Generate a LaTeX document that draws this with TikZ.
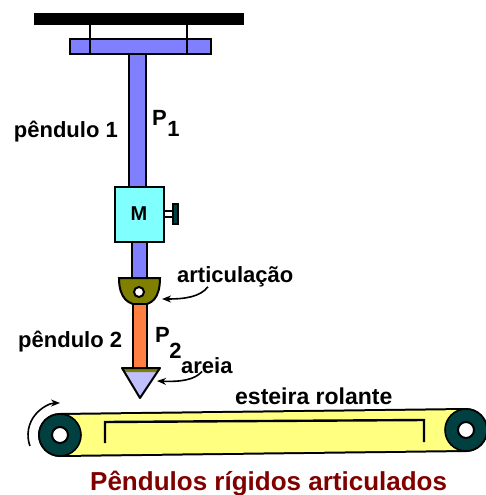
\documentclass[tikz,border=0pt]{standalone}
\usepackage{fontspec}
\setmainfont{Liberation Sans}
\usetikzlibrary{arrows.meta,calc}

\definecolor{rodblue}{HTML}{8080FF}
\definecolor{boxcyan}{HTML}{80FFFF}
\definecolor{jointolive}{HTML}{808000}
\definecolor{rodorange}{HTML}{FF8040}
\definecolor{bobviolet}{HTML}{C0C0FF}
\definecolor{beltyellow}{HTML}{FFFF80}
\definecolor{rollerteal}{HTML}{004040}
\definecolor{titlered}{HTML}{800000}

\tikzset{
  outline/.style={draw=black, line width=2pt},
  lbl/.style={inner sep=0pt, font=\fontsize{22}{22}\selectfont\bfseries},
  conn/.style={draw=black, line width=1.6pt, -{Stealth[length=9pt,width=7pt]}},
}

\begin{document}
\begin{tikzpicture}[x=1pt,y=-1pt]
\useasboundingbox (0,0) rectangle (485,495);

% ceiling beam and hangers
\fill[black] (34,13) rectangle (244,25);
\draw[line width=2.4pt] (90,25) -- (90,54);
\draw[line width=2.4pt] (187,25) -- (187,54);

% upper rod (pendulum 1)
\draw[outline, fill=rodblue] (129,52) rectangle (146,188);
% suspension bar
\draw[outline, fill=rodblue] (70,39) rectangle (211,54);
\draw[line width=2.4pt] (90,39) -- (90,54);
\draw[line width=2.4pt] (187,39) -- (187,54);

% mass block with side screw
\draw[outline, fill=boxcyan] (115,187) rectangle (164,242);
\node[lbl, font=\fontsize{20}{20}\selectfont\bfseries] (mass) at (139,214) {M};
\draw[line width=1.8pt] (164,211) -- (173,211);
\draw[line width=1.8pt] (164,217) -- (173,217);
\draw[line width=1.4pt, fill=rollerteal] (173,204) rectangle (178,224);

% short rod between block and joint
\draw[outline, fill=rodblue] (132,242) rectangle (147,279);

% joint
\draw[outline, fill=jointolive] (119,278) -- (160,278)
  .. controls (160,299) and (151,305) .. (140,305)
  .. controls (129,305) and (119,299) .. cycle;
\draw[line width=2pt, fill=white] (139,292) circle[radius=5];

% lower rod (pendulum 2)
\draw[outline, fill=rodorange] (133,304) rectangle (147,368);

% sand bob
\fill[bobviolet] (122,368) -- (160,368) -- (140,398) -- cycle;
\fill[jointolive] (122,368) -- (160,368) -- (157.3,372) -- (124.7,372) -- cycle;
\draw[outline, line join=round] (122,368) -- (160,368) -- (140,398) -- cycle;

% conveyor belt
\draw[line width=44pt, line cap=round, black] (60,435) -- (466,430);
\draw[line width=40pt, line cap=round, beltyellow] (60,435) -- (466,430);
\draw[line width=2.4pt] (105,443) -- (105,422) -- (424,420) -- (424,442);

% rollers
\foreach \cx/\cy in {60/435, 466/430}{
  \draw[line width=1.6pt, fill=rollerteal] (\cx,\cy) circle[radius=21];
  \draw[line width=2pt, fill=white] (\cx,\cy) circle[radius=8];
}

% rotation sense of the belt
\draw[conn] (60,435) ++(160:32) arc[start angle=160, end angle=270, radius=32];

% labels
\node[lbl, anchor=base east] (pend1) at (118,137) {pêndulo 1};
\node[lbl, anchor=base west] (p1) at (152,125) {P};
\node[lbl, anchor=base west] (p1sub) at ([yshift=-11pt]p1.base east) {1};
\node[lbl, anchor=base west] (art) at (177,282) {articulação};
\node[lbl, anchor=base west] (pend2) at (18,347) {pêndulo 2};
\node[lbl, anchor=base west] (p2) at (155,342) {P};
\node[lbl, anchor=base west] (p2sub) at ([yshift=-16pt,xshift=-1pt]p2.base east) {2};
\node[lbl, anchor=base west] (sand) at (181,373) {areia};
\node[lbl, anchor=base west, font=\fontsize{23}{23}\selectfont\bfseries] (belt) at (235,404) {esteira rolante};
\node[lbl, anchor=base west, text=titlered, font=\fontsize{26}{26}\selectfont\bfseries] (title) at (90,490) {Pêndulos rígidos articulados};

% pointers
\coordinate (jointtip) at (162,299);
\coordinate (bobtip) at (157,381);
\draw[conn] ($(art.south west)+(31,0)$) .. controls (200,297) and (185,299) .. (jointtip);
\draw[conn] ($(sand.south west)+(21,-2)$) .. controls (195,380) and (180,382) .. (bobtip);
\end{tikzpicture}
\end{document}
